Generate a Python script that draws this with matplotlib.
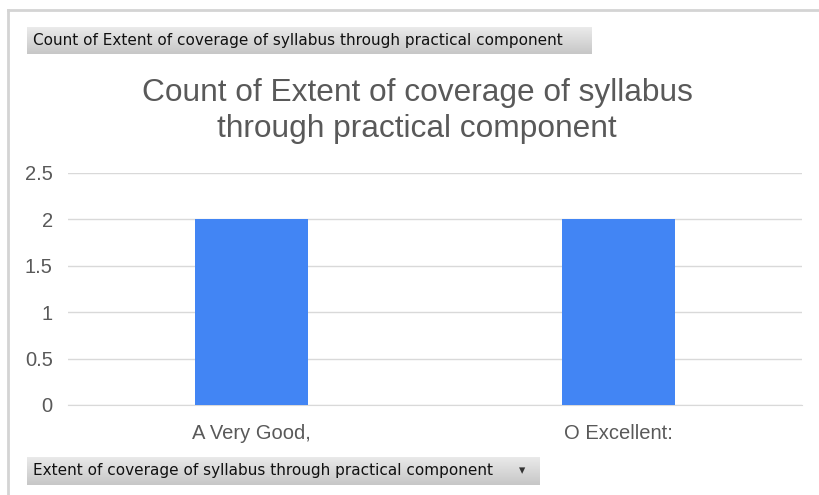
import matplotlib.pyplot as plt
import numpy as np

# datos del grafico
categorias = ["A Very Good,", "O Excellent:"]
conteos = [2, 2]
ticks_y = [0, 0.5, 1, 1.5, 2, 2.5]
titulo = "Count of Extent of coverage of syllabus\nthrough practical component"
boton_valor = "Count of Extent of coverage of syllabus through practical component"
boton_eje = "Extent of coverage of syllabus through practical component"

W, H = 820, 495
fig = plt.figure(figsize=(W / 100, H / 100), dpi=100)
fig.patch.set_facecolor("white")

def fx(px):
    return px / W

def fy(py):
    return 1 - py / H

# borde del grafico (arriba e izquierda)
fig.add_artist(plt.Line2D([fx(8), 1], [fy(10), fy(10)], color="#D4D4D4", lw=2))
fig.add_artist(plt.Line2D([fx(8), fx(8)], [fy(10), 0], color="#D4D4D4", lw=2))

# botones grises con degradado
def boton(x0, y0, x1, y1, texto, flecha=False):
    bax = fig.add_axes([fx(x0), fy(y1), fx(x1 - x0), fy(y0) - fy(y1)])
    grad = np.linspace(0.92, 0.78, 50).reshape(-1, 1)
    bax.imshow(np.dstack([grad, grad, grad]), aspect="auto", extent=[0, 1, 0, 1])
    bax.set_xlim(0, 1)
    bax.set_ylim(0, 1)
    bax.axis("off")
    fig.text(fx(x0 + 6), (fy(y0) + fy(y1)) / 2, texto, fontsize=11,
             family="DejaVu Sans", color="#111111", va="center", ha="left")
    if flecha:
        fig.text(fx(x1 - 18), (fy(y0) + fy(y1)) / 2, "\u25BE", fontsize=9,
                 color="#333333", va="center", ha="center")

boton(27, 27, 592, 54, boton_valor)
boton(27, 457, 540, 485, boton_eje, flecha=True)

# titulo
fig.text(fx(417), fy(111), titulo, fontsize=22.8, family="Liberation Sans",
         color="#595959", ha="center", va="center", linespacing=1.3)

# grafica de barras
ax = fig.add_axes([fx(68), fy(405), fx(802 - 68), fy(173) - fy(405)])
x = np.arange(len(categorias))
ax.bar(x, conteos, width=0.31, color="#4285F4", zorder=3)
ax.set_xlim(-0.5, len(categorias) - 0.5)
ax.set_ylim(0, 2.5)
ax.set_yticks(ticks_y)
ax.set_yticklabels(["0", "0.5", "1", "1.5", "2", "2.5"])
ax.set_xticks(x)
ax.set_xticklabels(categorias)
ax.yaxis.grid(True, color="#D9D9D9", lw=1, zorder=0)
for s in ["top", "right", "left"]:
    ax.spines[s].set_visible(False)
ax.spines["bottom"].set_color("#D9D9D9")
ax.tick_params(axis="both", length=0, labelsize=14.5, labelcolor="#595959")
ax.tick_params(axis="y", pad=11)
ax.tick_params(axis="x", pad=14)
for lab in ax.get_xticklabels() + ax.get_yticklabels():
    lab.set_family("Liberation Sans")

plt.savefig("out.png", dpi=100)
